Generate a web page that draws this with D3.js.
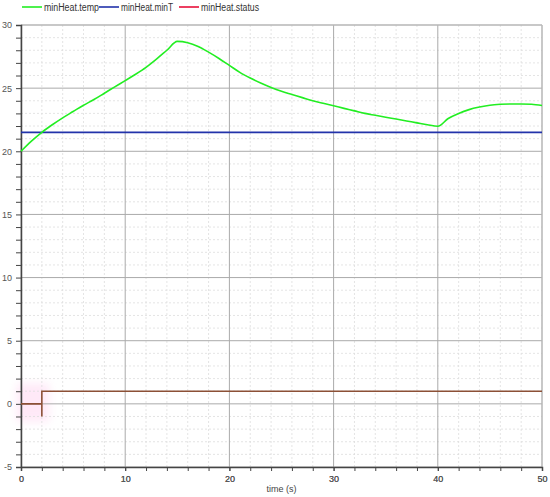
<!DOCTYPE html>
<html><head><meta charset="utf-8">
<script src="https://cdn.jsdelivr.net/npm/d3@7"></script>
<style>body{margin:0;background:#fff;} svg{font-family:"Liberation Sans",Arial,sans-serif;}</style>
</head><body><svg id="c" width="550" height="497"></svg>
<script>
const timeT = [0,1,2,3,4,5,6,7,8,9,10,11,12,13,14,15,16,17,18,19,20,21,22,23,24,25,26,27,28,29,30,31,32,33,34,35,36,37,38,39,40,41,42,43,44,45,46,47,48,49,50];
const tempV = [20,20.8,21.5,22.1,22.65,23.15,23.65,24.1,24.6,25.1,25.6,26.1,26.65,27.3,28.0,28.7,28.6,28.3,27.85,27.35,26.8,26.25,25.8,25.4,25.05,24.75,24.5,24.25,24.0,23.8,23.6,23.4,23.2,23.0,22.85,22.7,22.55,22.4,22.25,22.1,21.98,22.6,23.0,23.3,23.5,23.65,23.72,23.75,23.75,23.72,23.63];
const minTT = [0,50];
const minTV = [21.5,21.5];
const statusT = [0,2,2,2,50];
const statusV = [0,0,-1,1,1];
const seriesNames = ["minHeat.temp","minHeat.minT","minHeat.status"];
const seriesColors = ["#22ee22","#2233aa","#e8103a"];
const xTicks = [0,10,20,30,40,50];
const yTicks = [-5,0,5,10,15,20,25,30];

const svg = d3.select("#c");
const L=21,R=542,T=25,B=467;
const x = d3.scaleLinear().domain([0,50]).range([L,R]);
const y = d3.scaleLinear().domain([-5,30]).range([B,T]);

// pink halo
const defs = svg.append("defs");
defs.append("filter").attr("id","blur").attr("x","-50%").attr("y","-50%").attr("width","200%").attr("height","200%")
  .append("feGaussianBlur").attr("stdDeviation",4);
svg.append("rect").attr("x",x(-0.4)).attr("y",y(1.6)).attr("width",x(2.7)-x(-0.4)).attr("height",y(-1.4)-y(1.6))
  .attr("fill","#ffe0f4").attr("opacity",0.7).attr("filter","url(#blur)");

// minor grid
const g = svg.append("g");
d3.range(0,51,2).filter(v=>v%10!==0).forEach(v=>{
  g.append("line").attr("x1",x(v)).attr("x2",x(v)).attr("y1",T).attr("y2",B).attr("stroke","#ddd").attr("stroke-dasharray","2,2").attr("stroke-width",0.8);
});
d3.range(-5,31,1).filter(v=>v%5!==0).forEach(v=>{
  g.append("line").attr("x1",L).attr("x2",R).attr("y1",y(v)).attr("y2",y(v)).attr("stroke","#ddd").attr("stroke-dasharray","2,2").attr("stroke-width",0.8);
});
// major grid
xTicks.forEach(v=>g.append("line").attr("x1",x(v)).attr("x2",x(v)).attr("y1",T).attr("y2",B).attr("stroke","#aaa").attr("stroke-width",1));
yTicks.forEach(v=>g.append("line").attr("x1",L).attr("x2",R).attr("y1",y(v)).attr("y2",y(v)).attr("stroke","#aaa").attr("stroke-width",1));
g.append("line").attr("x1",R).attr("x2",R).attr("y1",T).attr("y2",B).attr("stroke","#bbb");
g.append("line").attr("x1",L).attr("x2",R).attr("y1",T).attr("y2",T).attr("stroke","#bbb");

// axes
const xAxis = d3.axisBottom(x).tickValues(d3.range(0,51,2).concat(xTicks)).tickSize(4).tickFormat(d=>xTicks.includes(d)?d:"");
const ya = svg.append("g").attr("transform",`translate(0,${B})`).call(xAxis);
const yAxis = d3.axisLeft(y).tickValues(d3.range(-5,31,1)).tickSize(5).tickFormat(d=>yTicks.includes(d)?d:"");
const yb = svg.append("g").attr("transform",`translate(${L},0)`).call(yAxis);
[ya,yb].forEach(a=>{
  a.selectAll("path").attr("stroke","#444").attr("stroke-width",1.5);
  a.selectAll("line").attr("stroke","#444");
  a.selectAll("text").attr("fill","#555").style("font-size","9px").style("font-family","inherit");
});
ya.selectAll("text").attr("dy","0.9em");
yb.selectAll("text").attr("x",-9);

svg.append("text").attr("x",(L+R)/2).attr("y",492).attr("text-anchor","middle").attr("fill","#444").style("font-size","9px").text("time (s)");

const line = d3.line().x(d=>x(d[0])).y(d=>y(d[1]));
svg.append("path").datum(minTT.map((t,i)=>[t,minTV[i]])).attr("d",line).attr("fill","none").attr("stroke",seriesColors[1]).attr("stroke-width",1.8);
svg.append("path").datum(timeT.map((t,i)=>[t,tempV[i]])).attr("d",d3.line().x(d=>x(d[0])).y(d=>y(d[1])).curve(d3.curveMonotoneX)).attr("fill","none").attr("stroke",seriesColors[0]).attr("stroke-width",1.6);
svg.append("path").datum(statusT.map((t,i)=>[t,statusV[i]])).attr("d",line).attr("fill","none").attr("stroke","#8c5036").attr("stroke-width",1.6);

// legend
const lx=[22,99,179];
const lw=[55,52,58];
seriesNames.forEach((n,i)=>{
  svg.append("line").attr("x1",lx[i]).attr("x2",lx[i]+20).attr("y1",7).attr("y2",7).attr("stroke",seriesColors[i]).attr("stroke-width",1.6);
  svg.append("text").attr("x",lx[i]+22).attr("y",10.5).attr("fill","#333").style("font-size","10px")
    .attr("textLength",lw[i]).attr("lengthAdjust","spacingAndGlyphs").text(n);
});
</script></body></html>
